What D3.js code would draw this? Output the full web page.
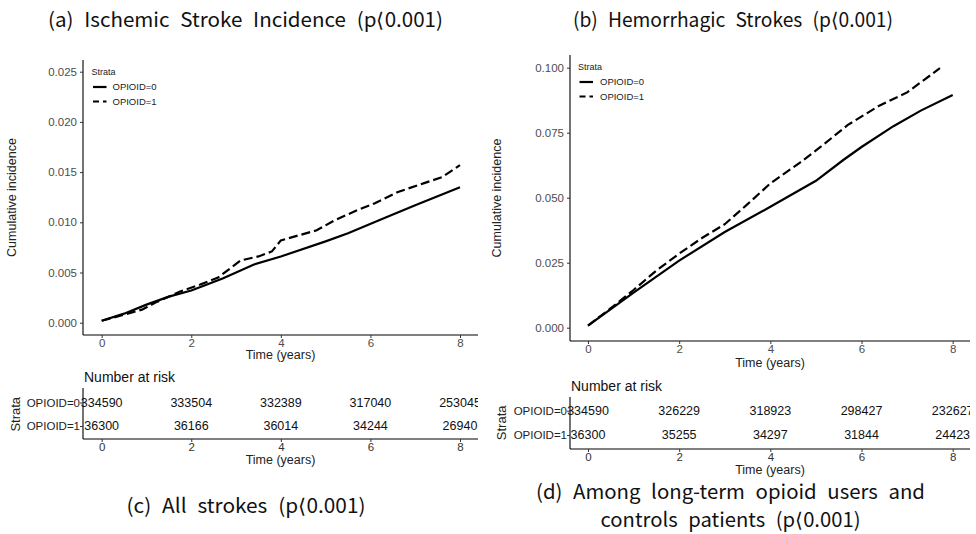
<!DOCTYPE html>
<html>
<head>
<meta charset="utf-8">
<script src="https://cdn.jsdelivr.net/npm/d3@7"></script>
<style>
  body { margin: 0; background: #fff; }
  svg text { font-family: "Liberation Sans", Arial, sans-serif; }
  .cap { font-family: "Noto Sans CJK KR", "Noto Sans", sans-serif !important; font-size: 20px; fill: #111; word-spacing: 6px; }
</style>
</head>
<body>
<svg id="chart" width="976" height="534"></svg>
<script>
// ischemic stroke (panel a / c)
var ischT0 = [0, 0.5, 1, 1.5, 2, 2.7, 3.4, 4, 5, 5.5, 6.3, 7, 8];
var ischOpioid0 = [0.0002, 0.0009, 0.0018, 0.0026, 0.0032, 0.0044, 0.0058, 0.0066, 0.0081, 0.0089, 0.0104, 0.0117, 0.0135];
var ischT1 = [0, 0.5, 0.9, 1.2, 1.75, 2.2, 2.6, 3.1, 3.5, 3.8, 4, 4.8, 5.2, 5.7, 6.1, 6.6, 7.2, 7.6, 8];
var ischOpioid1 = [0.0002, 0.0008, 0.0013, 0.0020, 0.0031, 0.0038, 0.0045, 0.0062, 0.0066, 0.0071, 0.0082, 0.0092, 0.0102, 0.0112, 0.0119, 0.0130, 0.0139, 0.0145, 0.0157];

// hemorrhagic stroke (panel b / d)
var hemT0 = [0, 1, 2, 3, 4, 4.5, 5, 5.6, 6, 6.7, 7.3, 8];
var hemOpioid0 = [0.0008, 0.0135, 0.0258, 0.0368, 0.0465, 0.0515, 0.0565, 0.0645, 0.0695, 0.0775, 0.0835, 0.0895];
var hemT1 = [0, 0.5, 1, 1.5, 2, 2.5, 3, 3.5, 4, 4.65, 5.1, 5.7, 6.4, 7, 7.72];
var hemOpioid1 = [0.0008, 0.0075, 0.0145, 0.0220, 0.0285, 0.0345, 0.0398, 0.0475, 0.0555, 0.0635, 0.0695, 0.0780, 0.0855, 0.0905, 0.0998];

var riskTimes = [0, 2, 4, 6, 8];
var strataLabels = ['OPIOID=0', 'OPIOID=1'];
var ischRisk0 = [334590, 333504, 332389, 317040, 253045];
var ischRisk1 = [36300, 36166, 36014, 34244, 26940];
var hemRisk0 = [334590, 326229, 318923, 298427, 232627];
var hemRisk1 = [36300, 35255, 34297, 31844, 24423];

var ischYTicks = [0, 0.005, 0.010, 0.015, 0.020, 0.025];
var hemYTicks = [0, 0.025, 0.050, 0.075, 0.100];
var xTicks = [0, 2, 4, 6, 8];

var titles = ['(a) Ischemic Stroke Incidence (p\u27e80.001)', '(b) Hemorrhagic Strokes (p\u27e80.001)'];
var captionC = '(c) All strokes (p\u27e80.001)';
var captionD = ['(d) Among long-term opioid users and', 'controls patients (p\u27e80.001)'];

var svg = d3.select('#chart');

function drawPanel(p) {
  var x = d3.scaleLinear().domain([0, 8]).range([p.x0, p.x8]);
  var y = d3.scaleLinear().domain([0, p.ymax]).range([p.yb, p.yt]);

  var g = svg.append('g');

  // axes
  var ax = g.append('g').attr('transform', 'translate(0,' + p.axisY + ')')
    .call(d3.axisBottom(x).tickValues(xTicks).tickSize(3).tickSizeOuter(0).tickFormat(d3.format('d')));
  ax.select('.domain').attr('d', 'M' + p.axisX + ',0H' + p.axisRight);
  var ay = g.append('g').attr('transform', 'translate(' + p.axisX + ',0)')
    .call(d3.axisLeft(y).tickValues(p.yTicks).tickSize(3).tickSizeOuter(0).tickFormat(d3.format('.3f')));
  ay.select('.domain').attr('d', 'M0,' + p.axisTop + 'V' + p.axisY);
  [ax, ay].forEach(function(a) {
    a.selectAll('.domain').attr('stroke', '#000').attr('stroke-width', 1.1);
    a.selectAll('.tick line').attr('stroke', '#333');
    a.selectAll('.tick text').attr('fill', '#4d4d4d').attr('font-size', 11.5)
      .attr('font-family', '"Liberation Sans", Arial, sans-serif');
  });
  ax.selectAll('.tick text').attr('dy', '0.55em');

  g.append('text').attr('x', (p.axisX + p.axisRight) / 2).attr('y', p.axisY + p.xlabDy)
    .attr('text-anchor', 'middle').attr('font-size', 12.5).attr('fill', '#222').text('Time (years)');
  g.append('text').attr('transform', 'translate(' + p.ylabX + ',' + ((p.axisTop + p.axisY) / 2) + ') rotate(-90)')
    .attr('text-anchor', 'middle').attr('font-size', 12.5).attr('fill', '#222').text('Cumulative incidence');

  // curves
  var line = d3.line().x(function(d) { return x(d[0]); }).y(function(d) { return y(d[1]); });
  var s0 = d3.zip(p.t0, p.v0), s1 = d3.zip(p.t1, p.v1);
  g.append('path').datum(s0).attr('d', line).attr('fill', 'none').attr('stroke', '#000').attr('stroke-width', 2.2);
  g.append('path').datum(s1).attr('d', line).attr('fill', 'none').attr('stroke', '#000').attr('stroke-width', 2.2)
    .attr('stroke-dasharray', '9,4');

  // legend
  var lg = g.append('g').attr('transform', 'translate(' + p.legX + ',' + p.legY + ')');
  lg.append('text').attr('x', 0).attr('y', 0).attr('dy', '0.35em').attr('font-size', 9).attr('fill', '#222').text('Strata');
  strataLabels.forEach(function(s, i) {
    var ly = 15.5 + i * 14.5;
    lg.append('line').attr('x1', 1.5).attr('x2', 15).attr('y1', ly).attr('y2', ly)
      .attr('stroke', '#000').attr('stroke-width', 2.2).attr('stroke-dasharray', i ? '6,4' : null);
    lg.append('text').attr('x', p.legTextDx).attr('y', ly).attr('dy', '0.35em').attr('font-size', 9.5).attr('fill', '#222').text(s);
  });

  // risk table
  var rt = svg.append('g');
  var clipId = 'clip' + p.id;
  svg.append('clipPath').attr('id', clipId).append('rect')
    .attr('x', p.axisX - 60).attr('y', p.rtTop - 30).attr('width', p.axisRight - p.axisX + 60).attr('height', 100);
  rt.append('text').attr('x', p.axisX + 1).attr('y', p.rtTop - 11).attr('dy', '0.35em')
    .attr('font-size', 14).attr('fill', '#111').text('Number at risk');
  var ry = d3.scalePoint().domain(strataLabels).range([p.row0, p.row1]);
  var rax = rt.append('g').attr('transform', 'translate(0,' + p.rtAxisY + ')')
    .call(d3.axisBottom(x).tickValues(xTicks).tickSize(3).tickSizeOuter(0).tickFormat(d3.format('d')));
  rax.select('.domain').attr('d', 'M' + p.axisX + ',0H' + p.axisRight);
  var ray = rt.append('g').attr('transform', 'translate(' + p.axisX + ',0)')
    .call(d3.axisLeft(ry).tickSize(3).tickSizeOuter(0));
  ray.select('.domain').attr('d', 'M0,' + p.rtTop + 'V' + p.rtAxisY);
  [rax, ray].forEach(function(a) {
    a.selectAll('.domain').attr('stroke', '#000').attr('stroke-width', 1.1);
    a.selectAll('.tick line').attr('stroke', '#333');
    a.selectAll('.tick text').attr('fill', '#333').attr('font-size', 11.5)
      .attr('font-family', '"Liberation Sans", Arial, sans-serif');
  });
  rax.selectAll('.tick text').attr('dy', '0.55em');
  ray.selectAll('.tick text').attr('x', -3).attr('fill', '#222');
  rt.append('text').attr('x', (p.axisX + p.axisRight) / 2).attr('y', p.rtAxisY + 25)
    .attr('text-anchor', 'middle').attr('font-size', 12.5).attr('fill', '#222').text('Time (years)');
  rt.append('text').attr('transform', 'translate(' + p.strataX + ',' + ((p.row0 + p.row1) / 2) + ') rotate(-90)')
    .attr('text-anchor', 'middle').attr('dy', '0.35em').attr('font-size', 13).attr('fill', '#222').text('Strata');
  var cells = rt.append('g').attr('clip-path', 'url(#' + clipId + ')');
  [p.risk0, p.risk1].forEach(function(arr, r) {
    cells.selectAll(null).data(arr).enter().append('text')
      .attr('x', function(d, i) { return x(riskTimes[i]); })
      .attr('y', ry(strataLabels[r])).attr('dy', '0.35em')
      .attr('text-anchor', 'middle').attr('font-size', 12.5).attr('fill', '#111')
      .text(function(d) { return d; });
  });
}

drawPanel({
  id: 'a', x0: 101.7, x8: 460, ymax: 0.025, yb: 322.7, yt: 71.7,
  axisX: 83, axisRight: 478, axisY: 335, axisTop: 60, ylabX: 16, xlabDy: 24, yTicks: ischYTicks,
  t0: ischT0, v0: ischOpioid0, t1: ischT1, v1: ischOpioid1,
  legX: 91.5, legY: 71.5, legTextDx: 21,
  rtTop: 388, rtAxisY: 439, row0: 402.5, row1: 426, strataX: 15,
  risk0: ischRisk0, risk1: ischRisk1
});
drawPanel({
  id: 'b', x0: 588, x8: 952.7, ymax: 0.1, yb: 327.7, yt: 67.7,
  axisX: 570, axisRight: 970, axisY: 341, axisTop: 55, ylabX: 501, xlabDy: 26, yTicks: hemYTicks,
  t0: hemT0, v0: hemOpioid0, t1: hemT1, v1: hemOpioid1,
  legX: 578, legY: 66.5, legTextDx: 22,
  rtTop: 397, rtAxisY: 449, row0: 410.7, row1: 435, strataX: 501.5,
  risk0: hemRisk0, risk1: hemRisk1
});

// titles and captions, widths matched to the reference
function caption(txt, cx, by, w) {
  svg.append('text').attr('class', 'cap').attr('x', cx - w / 2).attr('y', by)
    .attr('textLength', w).attr('lengthAdjust', 'spacingAndGlyphs').text(txt);
}
caption(titles[0], 245.5, 27, 395);
caption(titles[1], 733, 27, 320);
caption(captionC, 246, 513, 239);
caption(captionD[0], 730.5, 499, 389);
caption(captionD[1], 730.5, 527, 260);
</script>
</body>
</html>
